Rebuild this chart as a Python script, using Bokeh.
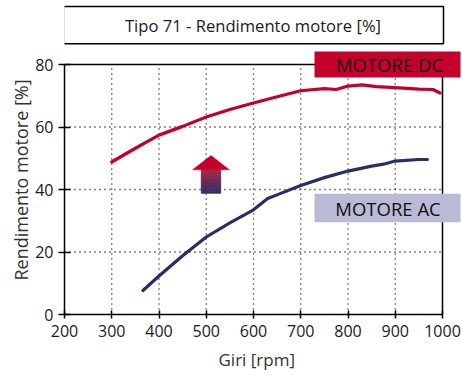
import numpy as np
from bokeh.plotting import figure
from bokeh.models import Range1d, FixedTicker, BoxAnnotation, Label, Title
from bokeh.embed import file_html
from bokeh.resources import INLINE

# ---- data ----
rpm_dc = [300, 350, 400, 450, 500, 550, 600, 650, 700, 750, 775, 800, 830, 860, 900, 950, 980, 995]
eff_dc = [48.8, 53.2, 57.4, 60.2, 63.2, 65.6, 67.7, 69.7, 71.6, 72.3, 72.0, 73.1, 73.5, 72.9, 72.6, 72.1, 72.0, 70.9]

rpm_ac = [366, 400, 450, 500, 550, 600, 630, 655, 700, 750, 800, 850, 875, 900, 950, 968]
eff_ac = [7.7, 12.3, 18.8, 24.8, 29.3, 33.5, 37.1, 38.6, 41.3, 43.8, 45.9, 47.5, 48.1, 49.1, 49.6, 49.6]

x_ticks = [200, 300, 400, 500, 600, 700, 800, 900, 1000]
y_ticks = [0, 20, 40, 60, 80]

title_text = "Tipo 71 - Rendimento motore [%]"
x_label = "Giri [rpm]"
y_label = "Rendimento motore [%]"
label_dc = "MOTORE DC"
label_ac = "MOTORE AC"

RED = "#c4002b"
NAVY = "#27305f"
LAV = "#b9bad5"
FONT = "Open Sans"

X0, X1 = x_ticks[0], x_ticks[-1]
Y0, Y1 = y_ticks[0], y_ticks[-1]
PX_X = 378.0 / (X1 - X0)      # pixels per rpm
PX_Y = 250.0 / (Y1 - Y0)      # pixels per %

W, H = 462, 376
LEFT, BOTTOM = 64, 62
p = figure(width=W, height=H, output_backend="svg", toolbar_location=None,
           x_range=Range1d(X0, X0 + (W - LEFT) / PX_X),
           y_range=Range1d(Y0, Y0 + (H - BOTTOM) / PX_Y),
           min_border_left=LEFT, min_border_right=0, min_border_top=0, min_border_bottom=BOTTOM)
p.background_fill_color = "white"
p.border_fill_color = "white"
p.outline_line_color = None
p.xgrid.visible = False
p.ygrid.visible = False

p.xaxis.ticker = FixedTicker(ticks=x_ticks)
p.yaxis.ticker = FixedTicker(ticks=y_ticks)
p.xaxis.bounds = (X0, X1)
p.yaxis.bounds = (Y0, Y1)
for ax in (p.xaxis, p.yaxis):
    ax.axis_line_color = "black"
    ax.axis_line_width = 1.5
    ax.major_tick_line_color = "black"
    ax.major_tick_line_width = 1.5
    ax.minor_tick_line_color = None
    ax.major_label_text_font = FONT
    ax.major_label_text_font_size = "16px"
    ax.major_label_text_color = "#1a1a1a"
p.xaxis.major_tick_in = 4
p.xaxis.major_tick_out = 4
p.yaxis.major_tick_in = 6
p.yaxis.major_tick_out = 6
p.xaxis.major_label_standoff = 6

# axis titles (offset from the start of the plot box)
p.add_layout(Title(text=y_label, align="left", offset=34, standoff=0,
                   text_font=FONT, text_font_size="18px", text_font_style="normal",
                   text_color="#333333"), "left")
p.add_layout(Title(text=x_label, align="left", offset=154, standoff=12,
                   text_font=FONT, text_font_size="17px", text_font_style="normal",
                   text_color="#333333"), "below")

# dotted grid (inside the plot box only)
gx = x_ticks[1:-1]
gy = y_ticks[1:-1]
p.segment(x0=gx, y0=[Y0] * len(gx), x1=gx, y1=[Y1] * len(gx),
          line_color="black", line_width=1.3, line_dash="1 4")
p.segment(x0=[X0] * len(gy), y0=gy, x1=[X1] * len(gy), y1=gy,
          line_color="black", line_width=1.3, line_dash="1 4")
# plot box: top and right edges
p.segment(x0=[X0, X1], y0=[Y1, Y0], x1=[X1, X1], y1=[Y1, Y1], line_color="black", line_width=1.5)

# curves
p.line(rpm_dc, eff_dc, line_color=RED, line_width=3.2, line_join="round", line_cap="round")
p.line(rpm_ac, eff_ac, line_color=NAVY, line_width=3.2, line_join="round", line_cap="round")

# gradient arrow (decoration)
ax_c, hw_head, hw_shaft = 510, 39, 20.5
y_top, y_base, y_bot = 50.9, 46.3, 38.8
nb = 16
edges = np.linspace(y_base, y_bot, nb + 1)
c0 = np.array([0xb0, 0x22, 0x44]); c1 = np.array([0x28, 0x33, 0x66])
cols = []
for i in range(nb):
    t = (i + 0.5) / nb
    c = (c0 * (1 - t) + c1 * t).astype(int)
    cols.append("#%02x%02x%02x" % tuple(c))
p.quad(left=[ax_c - hw_shaft] * nb, right=[ax_c + hw_shaft] * nb,
       top=list(edges[:-1]), bottom=list(edges[1:]), fill_color=cols, line_color=cols, line_width=0.8)
p.patch([ax_c - hw_head, ax_c, ax_c + hw_head], [y_base, y_top, y_base], fill_color=RED, line_color=RED,
        line_width=0.5)

def px2x(px):
    return X0 + (px - LEFT) / PX_X

def py2y(py):
    return Y0 + (H - BOTTOM - py) / PX_Y

# title box
p.add_layout(BoxAnnotation(left=px2x(63), right=px2x(443), top=py2y(6), bottom=py2y(43.3),
                           fill_color="white", fill_alpha=1, line_color="black", line_alpha=1,
                           line_width=1.5, level="overlay"))
p.add_layout(Label(x=px2x(252.5), y=py2y(24.5), text=title_text, text_align="center", text_baseline="middle",
                   text_font=FONT, text_font_size="16.6px", text_color="#1a1a1a", level="overlay"))

# legend tags
p.add_layout(BoxAnnotation(left=px2x(314), right=px2x(460), top=py2y(51), bottom=py2y(77),
                           fill_color=RED, fill_alpha=1, line_color=None, level="overlay"))
p.add_layout(Label(x=px2x(389), y=py2y(64), text=label_dc, text_align="center", text_baseline="middle",
                   text_font=FONT, text_font_size="18.5px", text_color="#111111", level="overlay"))
p.add_layout(BoxAnnotation(left=px2x(314), right=px2x(460), top=py2y(193.3), bottom=py2y(221.7),
                           fill_color=LAV, fill_alpha=1, line_color=None, level="overlay"))
p.add_layout(Label(x=px2x(387.5), y=py2y(207.5), text=label_ac, text_align="center", text_baseline="middle",
                   text_font=FONT, text_font_size="18.5px", text_color="#111111", level="overlay"))

open("out.html", "w").write(file_html(p, INLINE))
